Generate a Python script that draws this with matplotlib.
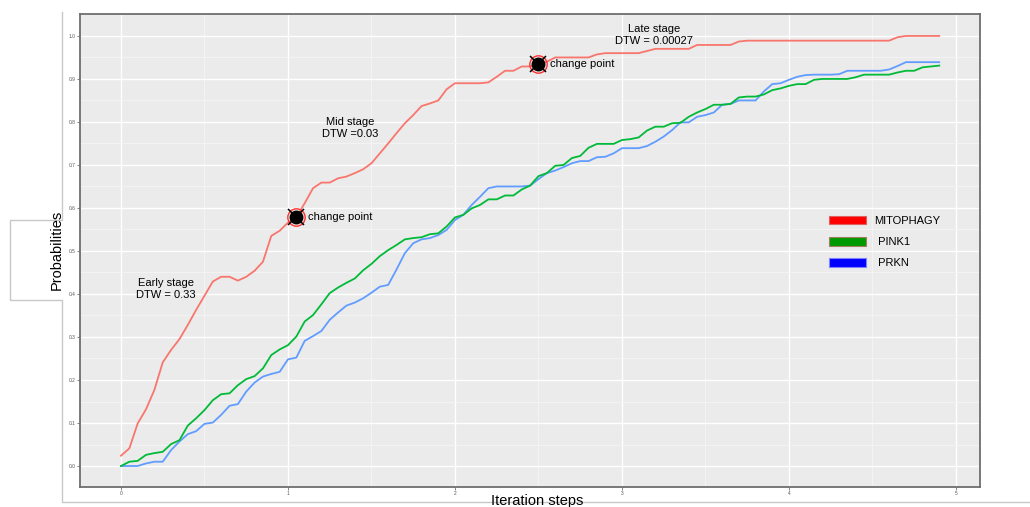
import numpy as np
import matplotlib.pyplot as plt
from matplotlib.patches import Patch
from matplotlib.lines import Line2D

plt.rcParams['font.family'] = ['Liberation Sans', 'DejaVu Sans']

# iteration steps 0 .. 4.9, step 0.05
steps = np.round(np.arange(99) * 0.05, 2)

mitophagy = [
    0.024, 0.041, 0.099, 0.132, 0.177, 0.241, 0.270, 0.295, 0.328, 0.363,
    0.396, 0.429, 0.440, 0.440, 0.431, 0.440, 0.454, 0.475, 0.535, 0.547,
    0.566, 0.578, 0.611, 0.646, 0.659, 0.659, 0.669, 0.673, 0.681, 0.690,
    0.704, 0.727, 0.750, 0.774, 0.797, 0.816, 0.837, 0.843, 0.850, 0.876,
    0.890, 0.890, 0.890, 0.890, 0.892, 0.905, 0.919, 0.919, 0.929, 0.929,
    0.934, 0.940, 0.950, 0.950, 0.950, 0.950, 0.950, 0.957, 0.960, 0.960,
    0.960, 0.960, 0.960, 0.965, 0.970, 0.970, 0.970, 0.970, 0.970, 0.979,
    0.979, 0.979, 0.979, 0.979, 0.987, 0.989, 0.989, 0.989, 0.989, 0.989,
    0.989, 0.989, 0.989, 0.989, 0.989, 0.989, 0.989, 0.989, 0.989, 0.989,
    0.989, 0.989, 0.989, 0.997, 1.000, 1.000, 1.000, 1.000, 1.000,
]
pink1 = [
    0.000, 0.010, 0.012, 0.026, 0.030, 0.033, 0.051, 0.060, 0.094, 0.111,
    0.130, 0.153, 0.167, 0.169, 0.188, 0.202, 0.209, 0.227, 0.258, 0.271,
    0.281, 0.301, 0.336, 0.351, 0.376, 0.402, 0.415, 0.426, 0.436, 0.455,
    0.470, 0.488, 0.502, 0.514, 0.527, 0.530, 0.532, 0.539, 0.541, 0.557,
    0.578, 0.584, 0.599, 0.607, 0.620, 0.620, 0.629, 0.629, 0.643, 0.652,
    0.674, 0.681, 0.698, 0.700, 0.716, 0.721, 0.740, 0.749, 0.749, 0.749,
    0.758, 0.760, 0.764, 0.780, 0.789, 0.789, 0.797, 0.798, 0.812, 0.822,
    0.830, 0.840, 0.840, 0.842, 0.857, 0.859, 0.859, 0.864, 0.874, 0.878,
    0.884, 0.888, 0.888, 0.898, 0.900, 0.900, 0.900, 0.900, 0.904, 0.910,
    0.910, 0.910, 0.910, 0.915, 0.919, 0.919, 0.927, 0.929, 0.931,
]
prkn = [
    0.000, 0.000, 0.000, 0.006, 0.010, 0.010, 0.037, 0.057, 0.074, 0.081,
    0.098, 0.101, 0.119, 0.140, 0.144, 0.173, 0.194, 0.208, 0.214, 0.219,
    0.248, 0.252, 0.291, 0.302, 0.314, 0.340, 0.357, 0.373, 0.380, 0.390,
    0.403, 0.417, 0.421, 0.457, 0.495, 0.518, 0.527, 0.530, 0.537, 0.549,
    0.572, 0.584, 0.607, 0.626, 0.646, 0.650, 0.650, 0.650, 0.650, 0.652,
    0.667, 0.681, 0.687, 0.695, 0.704, 0.709, 0.709, 0.718, 0.719, 0.727,
    0.739, 0.739, 0.739, 0.744, 0.754, 0.766, 0.781, 0.799, 0.799, 0.812,
    0.816, 0.822, 0.840, 0.842, 0.850, 0.850, 0.850, 0.871, 0.888, 0.890,
    0.898, 0.905, 0.909, 0.910, 0.910, 0.910, 0.911, 0.919, 0.919, 0.919,
    0.919, 0.919, 0.922, 0.930, 0.939, 0.939, 0.939, 0.939, 0.939,
]

# indices of the change points on the MITOPHAGY curve
change_idx = [21, 50]

stages = [
    (0.27, 0.412, "Early stage\nDTW = 0.33"),
    (1.37, 0.786, "Mid stage\nDTW =0.03"),
    (3.19, 1.002, "Late stage\nDTW = 0.00027"),
]

series_names = ["MITOPHAGY", " PINK1", " PRKN"]
line_colors = ["#F8766D", "#00BA38", "#619CFF"]
key_colors = ["#FF0000", "#009900", "#0000FF"]
key_edges = ["#E06060", "#A08060", "#8080FF"]

fig = plt.figure(figsize=(10.3, 5.07), dpi=100)
ax = fig.add_axes([80 / 1030, 20 / 507, 900 / 1030, 473 / 507])
ax.set_facecolor("#EBEBEB")

ax.set_xlim(-0.2455, 5.144)
ax.set_ylim(-0.0488, 1.051)
ax.set_xticks(range(6))
ax.set_yticks(np.round(np.arange(0, 1.01, 0.1), 1))
ax.set_xticks(np.arange(0.5, 5.0, 1.0), minor=True)
ax.set_yticks(np.arange(0.05, 1.0, 0.1), minor=True)
ax.grid(which="major", color="white", lw=1.0)
ax.grid(which="minor", color="#F5F5F5", lw=0.6)
ax.set_axisbelow(True)
ax.tick_params(which="major", labelsize=3.5, colors="#555555", length=2, width=0.5, pad=1)
ax.tick_params(which="minor", length=0)
for s in ax.spines.values():
    s.set_color("#6E6E6E")
    s.set_linewidth(1.3)

ax.plot(steps, prkn, color=line_colors[2], lw=1.3, zorder=3)
ax.plot(steps, pink1, color=line_colors[1], lw=1.3, zorder=3)
ax.plot(steps, mitophagy, color=line_colors[0], lw=1.3, zorder=3)

for i in change_idx:
    x, y = steps[i], mitophagy[i]
    ax.plot(x, y, "o", ms=12.5, mfc="none", mec="#FF3030", mew=1.0, zorder=4)
    ax.plot(x, y, "o", ms=9, color="black", zorder=5)
    ax.plot(x, y, "x", ms=11.5, color="black", mew=1.1, zorder=6)
    ax.text(x + 0.07, y, "change point", fontsize=8, va="center", ha="left", zorder=6)

for x, y, txt in stages:
    ax.text(x, y, txt, fontsize=8, ha="center", va="center", linespacing=1.25)

handles = [Patch(facecolor=c, edgecolor=e, lw=0.8) for c, e in zip(key_colors, key_edges)]
ax.legend(handles, series_names, loc="upper left", bbox_to_anchor=(0.826, 0.585),
          frameon=False, fontsize=8, handlelength=3.3, handleheight=0.8,
          handletextpad=0.8, labelspacing=1.0, borderpad=0)

fig.text(537 / 1030, 1 - 501 / 507, "Iteration steps", fontsize=10.5, ha="center", va="center")
fig.text(57 / 1030, 1 - 250 / 507, "Probabilities", fontsize=10.5, ha="center", va="center",
         rotation=90)

# outer panel outline with the notch around the y label
px = np.array([62, 62, 10, 10, 62, 62, 1030])
py = np.array([12, 220, 220, 300, 300, 502, 502])
fig.add_artist(Line2D(px / 1030, 1 - py / 507, color="#C8C8C8", lw=1.0))

fig.savefig("out.png", dpi=100)
